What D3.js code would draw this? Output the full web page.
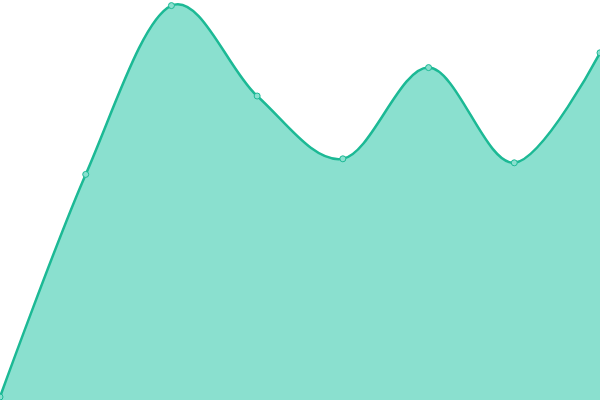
<!DOCTYPE html>
<html>
<head>
<meta charset="utf-8">
<script src="https://cdn.jsdelivr.net/npm/d3@7"></script>
<style>
  html, body { margin: 0; padding: 0; background: #fff; }
  svg { display: block; }
</style>
</head>
<body>
<div id="chart-area"></div>
<script>
// valores
var categorias = ["A", "B", "C", "D", "E", "F", "G", "H"];
var valores = [0.75, 56.4, 98.6, 76, 60.3, 83.1, 59.3, 86.8];

var width = 600, height = 400;

var svg = d3.select("#chart-area")
    .append("svg")
        .attr("width", width)
        .attr("height", height);

var datos = categorias.map(function(c, i) {
    return { cat: c, val: valores[i] };
});

var x = d3.scalePoint()
    .domain(categorias)
    .range([0, width]);

var y = d3.scaleLinear()
    .domain([0, 100])
    .range([height, 0]);

var area = d3.area()
    .x(d => x(d.cat))
    .y0(y(0))
    .y1(d => y(d.val))
    .curve(d3.curveCardinal);

var linea = d3.line()
    .x(d => x(d.cat))
    .y(d => y(d.val))
    .curve(d3.curveCardinal);

svg.append("path")
    .datum(datos)
    .attr("d", area)
    .attr("fill", "#8ae0cf");

svg.append("path")
    .datum(datos)
    .attr("d", linea)
    .attr("fill", "none")
    .attr("stroke", "#1cb995")
    .attr("stroke-width", 2.5);

svg.selectAll("circle")
    .data(datos)
    .join("circle")
        .attr("cx", d => x(d.cat))
        .attr("cy", d => y(d.val))
        .attr("r", 3)
        .attr("fill", "#8ae0cf")
        .attr("stroke", "#1cb995")
        .attr("stroke-width", 1);
</script>
</body>
</html>
